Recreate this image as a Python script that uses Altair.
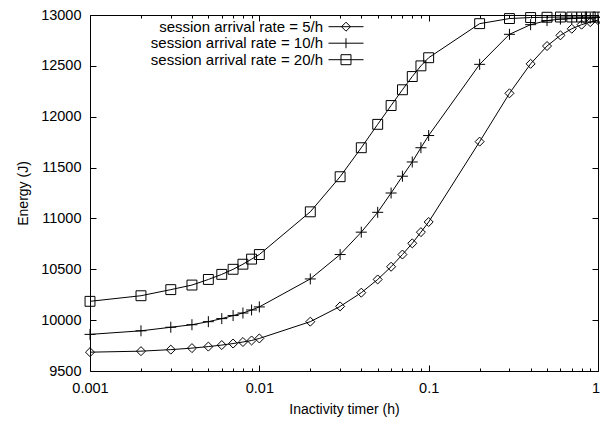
import altair as alt
import pandas as pd

# ---------------- data ----------------
timer_h = [0.001, 0.002, 0.003, 0.004, 0.005, 0.006, 0.007, 0.008, 0.009, 0.01,
           0.02, 0.03, 0.04, 0.05, 0.06, 0.07, 0.08, 0.09, 0.1,
           0.2, 0.3, 0.4, 0.5, 0.6, 0.7, 0.8, 0.9, 1.0]
energy_5 = [9685, 9695, 9710, 9725, 9740, 9755, 9770, 9785, 9800, 9820,
            9985, 10135, 10270, 10400, 10525, 10645, 10755, 10865, 10965,
            11755, 12230, 12520, 12695, 12800, 12865, 12905, 12930, 12950]
energy_10 = [9860, 9895, 9930, 9955, 9985, 10015, 10045, 10070, 10100, 10130,
             10405, 10645, 10865, 11060, 11250, 11415, 11555, 11695, 11815,
             12515, 12810, 12905, 12945, 12960, 12965, 12970, 12970, 12975]
energy_20 = [10185, 10240, 10300, 10345, 10400, 10450, 10500, 10550, 10600, 10645,
             11065, 11410, 11695, 11925, 12110, 12265, 12395, 12500, 12580,
             12915, 12965, 12975, 12978, 12980, 12980, 12980, 12980, 12980]
series_names = ["session arrival rate = 5/h",
                "session arrival rate = 10/h",
                "session arrival rate = 20/h"]
x_major_ticks = [0.001, 0.01, 0.1, 1]
x_minor_ticks = [0.002, 0.003, 0.004, 0.005, 0.006, 0.007, 0.008, 0.009,
                 0.02, 0.03, 0.04, 0.05, 0.06, 0.07, 0.08, 0.09,
                 0.2, 0.3, 0.4, 0.5, 0.6, 0.7, 0.8, 0.9]
y_ticks = [9500, 10000, 10500, 11000, 11500, 12000, 12500, 13000]

rows = []
for name, vals in zip(series_names, [energy_5, energy_10, energy_20]):
    for t, e in zip(timer_h, vals):
        rows.append({"timer": t, "energy": e, "series": name, "key": name})
df = pd.DataFrame(rows)

# ---------------- styling ----------------
FONT = "Liberation Sans"
W, H = 508, 356

marker_paths = ["M0,-0.82L0.82,0L0,0.82L-0.82,0Z",
                "M-1,0H1M0,-1V1",
                "M-0.9,-0.9H0.9V0.9H-0.9Z"]
# legend sample (line + marker) drawn to the right of the right-aligned label
legend_paths = ["M1.857,0H6.857M4.357,-0.643L5,0L4.357,0.643L3.714,0Z",
                "M1.857,0H6.857M4.357,-0.714V0.714",
                "M1.857,0H6.857M3.643,-0.714H5.071V0.714H3.643Z"]

xscale = alt.Scale(type="log", domain=[0.001, 1], nice=False)
yscale = alt.Scale(domain=[9500, 13000], nice=False, zero=False)


def tick_axis(orient, values, size, offset):
    return alt.Axis(orient=orient, values=values, offset=offset, tickSize=size,
                    labels=False, domain=False, grid=False, title=None,
                    ticks=True, tickColor="black", tickWidth=1)


base = alt.Chart(df)

lines = base.mark_line(color="black", strokeWidth=1).encode(
    x=alt.X("timer:Q", scale=xscale,
            axis=alt.Axis(orient="bottom", values=x_major_ticks, format="~g",
                          ticks=False, domain=False, grid=False,
                          labelFont=FONT, labelFontSize=14.5, labelColor="black",
                          labelPadding=10, labelFlush=False,
                          labelOffset={"condition": {"test": "datum.value >= 1", "value": -2.5},
                                       "value": 0},
                          title="Inactivity timer (h)", titleFont=FONT,
                          titleFontSize=14, titleFontWeight="normal",
                          titleColor="black", titleY=38, titleBaseline="middle")),
    y=alt.Y("energy:Q", scale=yscale,
            axis=alt.Axis(orient="left", values=y_ticks, format="d",
                          ticks=False, domain=False, grid=False,
                          labelFont=FONT, labelFontSize=14.5, labelColor="black",
                          labelPadding=9, labelFlush=False,
                          title="Energy (J)", titleFont=FONT,
                          titleFontSize=14, titleFontWeight="normal",
                          titleColor="black", titleX=-67, titleBaseline="middle")),
    detail="series:N",
)

points = base.mark_point(filled=False, color="black", strokeWidth=1, size=121, opacity=1).encode(
    x=alt.X("timer:Q", scale=xscale, axis=tick_axis("top", x_major_ticks, 6, -H)),
    y=alt.Y("energy:Q", scale=yscale, axis=tick_axis("right", y_ticks, 6, -W)),
    shape=alt.Shape("series:N", scale=alt.Scale(domain=series_names, range=marker_paths),
                    legend=None),
)

legend_layer = base.mark_point(filled=False, color="black", strokeWidth=1, size=196, opacity=0).encode(
    x=alt.X("timer:Q", scale=xscale, axis=tick_axis("bottom", x_major_ticks, 6, -H)),
    y=alt.Y("energy:Q", scale=yscale, axis=tick_axis("left", y_ticks, 6, -W)),
    shape=alt.Shape("key:N", scale=alt.Scale(domain=series_names, range=legend_paths),
                    sort=series_names,
                    legend=alt.Legend(orient="none", legendX=218, legendY=4.2,
                                      title=None, padding=0,
                                      labelFont=FONT, labelFontSize=15,
                                      labelColor="black", labelAlign="right",
                                      labelOffset=0, labelLimit=0,
                                      symbolSize=196, symbolStrokeColor="black",
                                      symbolStrokeWidth=1, symbolFillColor="transparent",
                                      symbolOpacity=1, rowPadding=0.5,
                                      symbolOffset=0)),
)

minor_a = base.mark_point(opacity=0).encode(
    x=alt.X("timer:Q", scale=xscale, axis=tick_axis("top", x_minor_ticks, 3, -H)),
    y=alt.Y("energy:Q", scale=yscale, axis=None),
)
minor_b = base.mark_point(opacity=0).encode(
    x=alt.X("timer:Q", scale=xscale, axis=tick_axis("bottom", x_minor_ticks, 3, -H)),
    y=alt.Y("energy:Q", scale=yscale, axis=None),
)

chart = alt.layer(lines, points, legend_layer, minor_a, minor_b).resolve_axis(
    x="independent", y="independent"
).resolve_scale(shape="independent").properties(
    width=W, height=H,
    autosize=alt.AutoSizeParams(type="none"),
    padding={"left": 82, "top": 7, "right": 2, "bottom": 46},
    background="white",
).configure_view(stroke="black", strokeWidth=1)

chart.save("out.html", embed_options={"renderer": "svg", "actions": False})
